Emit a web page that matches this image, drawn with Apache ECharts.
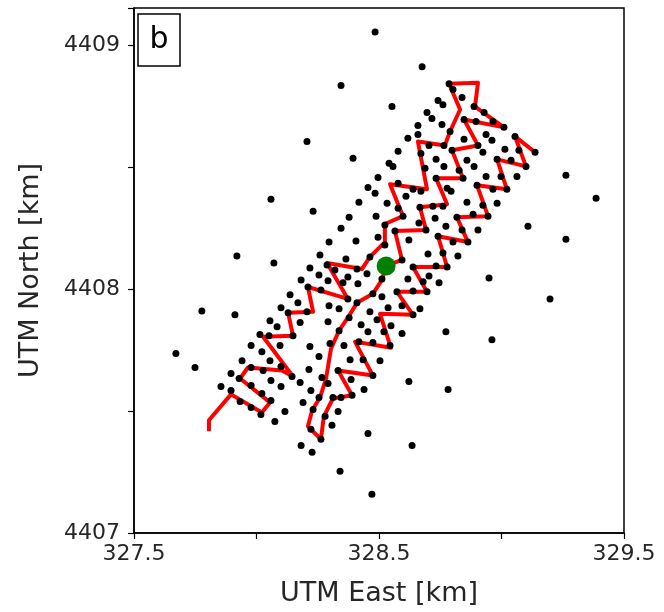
<!DOCTYPE html>
<html><head><meta charset="utf-8">
<script src="https://cdn.jsdelivr.net/npm/echarts@6/dist/echarts.min.js"></script>
<style>html,body{margin:0;padding:0;background:#fff}#c{width:664px;height:612px}</style>
</head><body><div id="c"></div>
<script>
// Station positions (UTM East, North in km)
const nodeEast = [328.484,328.345,328.676,328.553,328.206,328.059,328.231,327.920,328.071,327.777,327.912,327.671,327.749,327.855,329.263,329.386,329.108,329.263,329.198,328.949,328.961,328.773,328.782,328.622,328.635,328.341,328.471,328.455,
328.786,328.802,328.839,328.741,328.761,328.888,328.929,328.696,328.716,328.847,328.896,328.965,329.010,328.757,328.659,328.790,328.659,328.937,328.618,328.847,328.961,329.055,328.704,328.765,328.904,329.014,329.071,329.137,328.578,328.798,328.671,328.924,328.394,328.733,328.859,328.982,329.039,328.541,328.557,328.765,328.888,329.100,328.688,328.827,328.496,328.937,328.998,329.063,328.733,328.843,328.455,328.484,328.578,328.639,328.671,328.778,328.794,328.900,328.965,329.022,328.610,
328.533,328.578,328.667,328.720,328.761,328.859,328.982,328.924,328.418,328.488,328.598,328.729,328.818,328.884,328.945,328.524,328.565,328.663,328.692,328.773,328.839,328.904,328.496,328.622,328.741,328.802,328.863,328.524,328.700,328.761,328.822,328.463,328.594,328.639,328.733,328.778,328.451,328.512,328.618,328.704,328.680,328.745,328.475,328.512,328.573,328.639,328.696,328.463,328.537,328.594,328.639,328.667,
328.378,328.345,328.296,328.406,328.259,328.365,328.218,328.288,328.320,328.255,328.373,328.410,328.182,328.292,328.353,328.414,328.210,328.263,328.137,328.373,328.410,328.169,328.100,328.129,328.206,328.296,328.337,328.378,328.055,328.084,328.178,328.292,328.427,328.492,328.549,328.014,328.051,328.149,328.337,328.455,328.520,327.978,328.096,328.218,328.300,328.357,328.418,328.475,328.545,328.594,
328.022,328.255,327.941,328.055,327.978,328.027,328.100,328.214,328.333,327.896,327.929,328.059,328.145,328.267,328.178,327.896,327.978,328.100,328.222,328.292,328.022,328.059,328.190,328.255,328.312,328.345,327.933,327.978,328.116,328.231,328.333,328.018,328.280,328.075,328.308,328.222,328.263,328.182,328.227,328.382,328.435,328.504,328.475,328.386,328.439,328.390];
const nodeNorth = [4409.053,4408.833,4408.910,4408.747,4408.604,4408.367,4408.318,4408.135,4408.106,4407.910,4407.894,4407.735,4407.678,4407.600,4408.466,4408.372,4408.257,4408.204,4407.959,4408.045,4407.792,4407.825,4407.588,4407.621,4407.359,4407.253,4407.159,4407.408,
4408.841,4408.817,4408.784,4408.772,4408.755,4408.747,4408.723,4408.723,4408.698,4408.694,4408.686,4408.686,4408.662,4408.674,4408.670,4408.645,4408.633,4408.633,4408.617,4408.613,4408.609,4408.625,4408.588,4408.588,4408.588,4408.572,4408.568,4408.560,4408.564,4408.568,4408.555,4408.560,4408.535,4408.531,4408.527,4408.531,4408.527,4408.515,4408.502,4408.502,4408.502,4408.502,4408.494,4408.486,4408.457,4408.461,4408.461,4408.461,4408.453,4408.453,4408.416,4408.392,4408.433,4408.408,4408.400,4408.412,4408.400,4408.425,4408.408,4408.408,4408.380,
4408.351,4408.331,4408.335,4408.339,4408.339,4408.355,4408.351,4408.343,4408.355,4408.298,4408.298,4408.290,4408.294,4408.306,4408.298,4408.262,4408.237,4408.270,4408.241,4408.257,4408.241,4408.241,4408.212,4408.200,4408.216,4408.192,4408.192,4408.180,4408.143,4408.147,4408.135,4408.131,4408.119,4408.090,4408.094,4408.090,4408.062,4408.041,4408.041,4408.053,4408.029,4408.025,4407.980,4407.968,4407.988,4407.992,4407.988,4407.906,4407.923,4407.931,4407.894,4407.919,
4408.294,4408.249,4408.192,4408.196,4408.139,4408.123,4408.086,4408.098,4408.078,4408.057,4408.049,4408.082,4408.037,4408.033,4408.025,4408.021,4408.008,4407.996,4407.976,4407.959,4407.943,4407.943,4407.923,4407.902,4407.906,4407.931,4407.919,4407.882,4407.870,4407.845,4407.862,4407.866,4407.853,4407.874,4407.849,4407.813,4407.808,4407.808,4407.829,4407.825,4407.825,4407.768,4407.768,4407.764,4407.776,4407.768,4407.784,4407.780,4407.768,4407.817,
4407.743,4407.723,4407.706,4407.706,4407.678,4407.666,4407.682,4407.670,4407.666,4407.653,4407.633,4407.625,4407.641,4407.637,4407.617,4407.584,4407.604,4407.600,4407.584,4407.613,4407.572,4407.543,4407.535,4407.555,4407.555,4407.555,4407.539,4407.514,4407.498,4407.506,4407.498,4407.486,4407.478,4407.457,4407.441,4407.425,4407.384,4407.359,4407.331,4407.710,4407.710,4407.706,4407.645,4407.629,4407.588,4407.564];

// Route vertices (UTM East, North in km)
const routeEast = [327.806,327.806,327.896,328.022,328.055,327.933,327.965,328.104,328.149,328.027,328.149,328.129,328.231,328.210,328.373,328.288,328.431,328.463,328.524,328.524,328.598,328.545,328.696,328.659,328.769,328.790,328.831,328.786,328.904,328.892,329.010,328.847,328.904,328.798,328.843,328.733,328.778,328.667,328.692,328.565,328.594,328.529,
328.512,328.475,328.410,328.373,328.337,328.304,328.284,328.259,328.227,328.210,328.263,328.275,328.312,328.390,328.333,328.475,328.402,328.549,328.504,328.639,328.573,328.696,328.639,328.778,328.741,328.863,328.818,328.945,328.900,329.022,328.982,329.100,329.055,329.137];
const routeNorth = [4407.417,4407.462,4407.568,4407.494,4407.535,4407.633,4407.678,4407.666,4407.641,4407.804,4407.808,4407.902,4407.906,4408.008,4407.959,4408.106,4408.082,4408.131,4408.192,4408.266,4408.298,4408.429,4408.408,4408.604,4408.588,4408.645,4408.735,4408.841,4408.845,4408.747,4408.662,4408.694,4408.588,4408.568,4408.453,4408.453,4408.347,4408.335,4408.241,4408.237,4408.119,4408.094,
4408.037,4407.980,4407.943,4407.882,4407.829,4407.755,4407.633,4407.555,4407.502,4407.437,4407.384,4407.478,4407.551,4407.564,4407.666,4407.645,4407.784,4407.759,4407.898,4407.894,4407.988,4407.988,4408.090,4408.090,4408.216,4408.192,4408.294,4408.298,4408.425,4408.408,4408.531,4408.502,4408.625,4408.560];

// Source location
const srcEast = [328.529];
const srcNorth = [4408.094];

const xTickLabels = ['327.5','328.5','329.5'];
const yTickLabels = ['4407','4408','4409'];

const pair = (a,b)=>a.map((v,i)=>[v,b[i]]);
const chart = echarts.init(document.getElementById('c'));
const font = 'DejaVu Sans';
chart.setOption({
  animation:false,
  grid:{left:134,top:8,width:490,height:527,show:true,borderColor:'#000',borderWidth:1.5,backgroundColor:'transparent'},
  xAxis:{type:'value',min:327.5,max:329.5,interval:0.5,
    name:'UTM East [km]',nameLocation:'middle',nameGap:47,
    nameTextStyle:{fontFamily:font,fontSize:27,color:'#262626'},
    axisLine:{show:true,lineStyle:{color:'#000',width:1.5}},
    axisTick:{show:true,inside:false,length:6,lineStyle:{color:'#000',width:1.2}},
    axisLabel:{margin:10,fontFamily:font,fontSize:22,color:'#262626',
      formatter:v=>{const s=v.toFixed(1);return xTickLabels.includes(s)?s:'';}},
    splitLine:{show:false}},
  yAxis:{type:'value',min:4407,max:4409.151,interval:0.5,
    name:'UTM North [km]',nameLocation:'middle',nameGap:90,nameRotate:90,
    nameTextStyle:{fontFamily:font,fontSize:27,color:'#262626'},
    axisLine:{show:true,lineStyle:{color:'#000',width:1.5}},
    axisTick:{show:true,inside:false,length:6,lineStyle:{color:'#000',width:1.2}},
    axisLabel:{margin:14,fontFamily:font,fontSize:22,color:'#262626',
      formatter:v=>{const s=String(Math.round(v));return (Math.abs(v-Math.round(v))<1e-6&&yTickLabels.includes(s))?s:'';}},
    splitLine:{show:false}},
  graphic:[
    {type:'rect',shape:{x:138,y:14,width:42,height:52},style:{fill:'#fff',stroke:'#000',lineWidth:1.5},z:100},
    {type:'text',x:159,y:40,style:{text:'b',fontFamily:font,fontSize:30,fill:'#000',align:'center',verticalAlign:'middle'},z:101}
  ],
  series:[
    {type:'line',data:pair(routeEast,routeNorth),symbol:'none',lineStyle:{color:'#ff0000',width:4,join:'round'},z:2},
    {type:'scatter',data:pair(nodeEast,nodeNorth),symbolSize:7,itemStyle:{color:'#000',opacity:1},z:3},
    {type:'scatter',data:pair(srcEast,srcNorth),symbolSize:19,itemStyle:{color:'#008000',opacity:1},z:4}
  ]
});
</script></body></html>
